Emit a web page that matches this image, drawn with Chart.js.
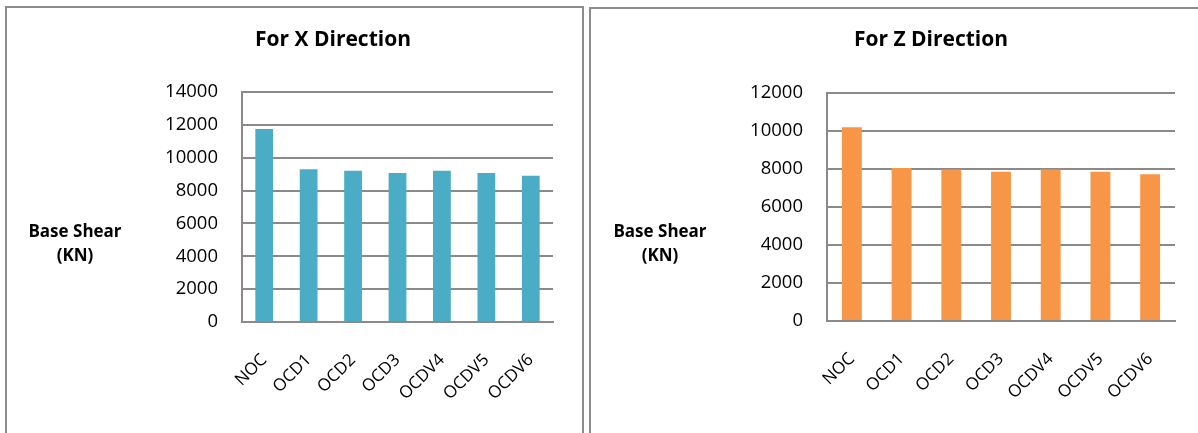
<!DOCTYPE html>
<html>
<head>
<meta charset="utf-8">
<script src="https://cdn.jsdelivr.net/npm/chart.js@4"></script>
<style>
  body { margin: 0; background: #fff; width: 1198px; height: 433px; overflow: hidden; position: relative; font-family: 'Open Sans', sans-serif; }
  .panel { position: absolute; border: 2px solid #8c8c8c; border-bottom: none; height: 500px; box-sizing: border-box; }
  canvas { position: absolute; top: 0; }
  .title { position: absolute; font-weight: bold; font-size: 21px; line-height: 24px; transform: translateX(-50%); white-space: nowrap; color: #000; }
  .ylabel { position: absolute; font-weight: bold; font-size: 17px; line-height: 24px; text-align: center; transform: translateX(-50%); white-space: nowrap; color: #000; }
</style>
</head>
<body>
<div class="panel" style="left:5px; top:6px; width:579px;"></div>
<div class="panel" style="left:589px; top:7px; width:640px; border-right:none;"></div>

<canvas id="chartX" width="587" height="433" style="left:0;"></canvas>
<canvas id="chartZ" width="611" height="433" style="left:587px;"></canvas>

<div class="title" style="left:333px; top:26px;">For X Direction</div>
<div class="title" style="left:931px; top:26px;">For Z Direction</div>
<div class="ylabel" style="left:75px; top:219px;">Base Shear<br>(KN)</div>
<div class="ylabel" style="left:660px; top:219px;">Base Shear<br>(KN)</div>

<script>
const categories = ['NOC', 'OCD1', 'OCD2', 'OCD3', 'OCDV4', 'OCDV5', 'OCDV6'];

const shearX = [11750, 9300, 9200, 9070, 9200, 9070, 8900];
const shearZ = [10200, 8050, 7970, 7850, 7970, 7850, 7730];

const yTicksX = [0, 2000, 4000, 6000, 8000, 10000, 12000, 14000];
const yTicksZ = [0, 2000, 4000, 6000, 8000, 10000, 12000];

const gridGray = '#8a8a8a';

function makeBarChart(id, values, color, yTicks, box) {
  const ctx = document.getElementById(id);
  if (!ctx || typeof Chart === 'undefined') return;

  new Chart(ctx, {
    type: 'bar',
    data: {
      labels: categories,
      datasets: [{
        data: values,
        backgroundColor: color,
        borderWidth: 0,
        categoryPercentage: 1.0,
        barPercentage: 0.4,
      }],
    },
    options: {
      responsive: false,
      animation: false,
      layout: {
        padding: { left: 0, right: box.right, top: box.top, bottom: 0 },
      },
      plugins: {
        legend: { display: false },
        tooltip: { enabled: false },
      },
      scales: {
        x: {
          grid: { display: false, drawTicks: false },
          border: { display: true, color: gridGray, width: 2 },
          ticks: {
            minRotation: 45,
            maxRotation: 45,
            padding: 28,
            color: '#000',
            font: { family: 'Open Sans', size: 17 },
          },
          afterFit: (scale) => { scale.height = box.bottom; },
        },
        y: {
          min: 0,
          max: yTicks[yTicks.length - 1],
          afterBuildTicks: (scale) => { scale.ticks = yTicks.map((v) => ({ value: v })); },
          grid: { color: gridGray, lineWidth: 2, drawTicks: false },
          border: { display: true, color: gridGray, width: 2 },
          ticks: {
            padding: 24,
            color: '#000',
            font: { family: 'Open Sans', size: 18.5 },
            callback: (value) => String(value),
          },
          afterFit: (scale) => { scale.width = box.left; },
        },
      },
    },
  });
}

window.addEventListener('DOMContentLoaded', () => {
  makeBarChart('chartX', shearX, '#4bacc6', yTicksX, { left: 242, right: 34, top: 92, bottom: 111 });
  makeBarChart('chartZ', shearZ, '#f79646', yTicksZ, { left: 240, right: 23, top: 93, bottom: 112 });
});
</script>
</body>
</html>
